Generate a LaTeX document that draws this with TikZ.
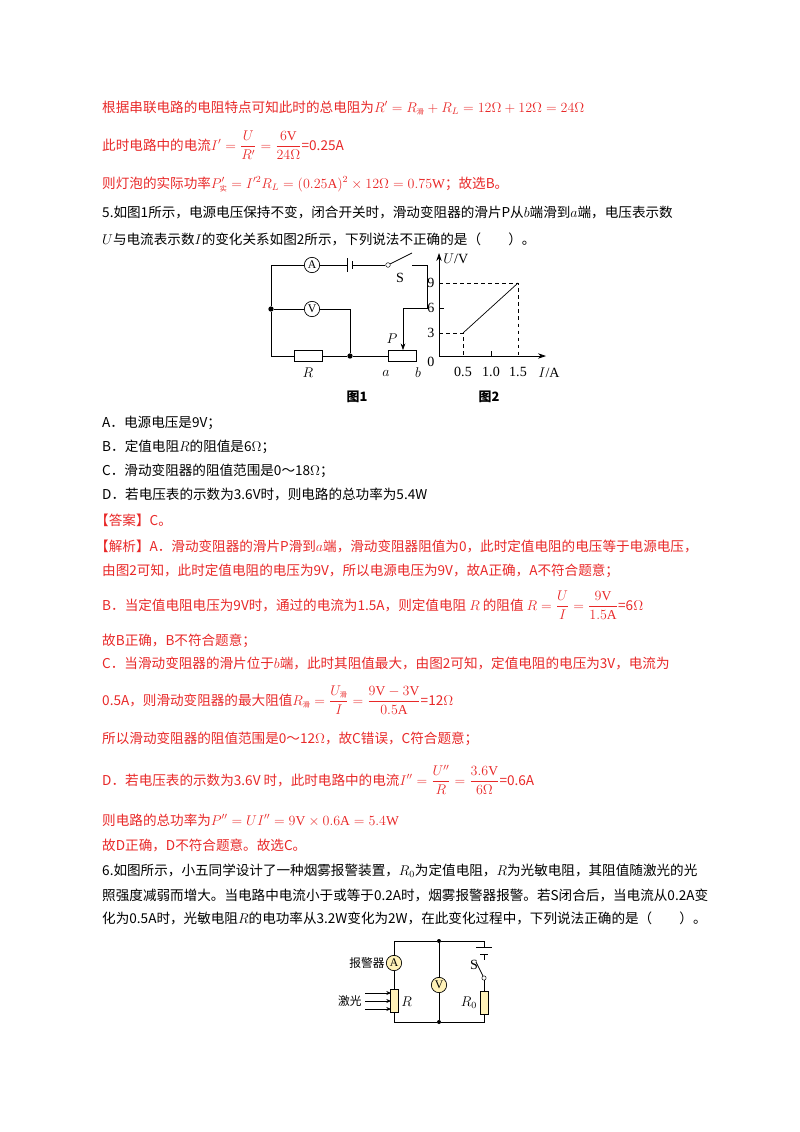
\documentclass[tikz,border=0pt]{standalone}
\usepackage{fontspec}
\setmainfont{Liberation Serif}
\newfontfamily\cjk{Noto Sans CJK SC}
\usetikzlibrary{arrows.meta}
\definecolor{ansred}{RGB}{232,40,40}
\definecolor{meter}{RGB}{255,242,185}
\newcommand{\sub}[1]{\mbox{\cjk\fontsize{6}{6}\selectfont #1}}
\newcommand{\uu}[1]{\mathrm{#1}}
\begin{document}
\begin{tikzpicture}[x=0.3mm,y=-0.3mm,
    line/.style={anchor=base west,inner sep=0,font=\cjk\fontsize{11.6}{13}\selectfont},
    redline/.style={line,text=ansred},
    wire/.style={line width=0.6pt},
    meterc/.style={circle,draw,line width=0.6pt,inner sep=0,minimum size=4.6mm,font=\fontsize{10}{10}\selectfont},
    resbox/.style={draw,line width=0.6pt,fill=white,minimum width=8.4mm,minimum height=3.3mm,inner sep=0},
    dotn/.style={circle,fill,inner sep=0,minimum size=1.6mm},
    lab/.style={font=\fontsize{12}{12}\selectfont,inner sep=1pt},
    dashln/.style={dashed,line width=0.6pt}]
\useasboundingbox (0,0) rectangle (800,1132);

% solution text
\node[redline] (l1) at (102,112) {根据串联电路的电阻特点可知此时的总电阻为$R'=R_{\sub{滑}}+R_L=12\Omega+12\Omega=24\Omega$};
\node[redline] (l2) at (102,150) {此时电路中的电流$\displaystyle I'=\frac{U}{R'}=\frac{6\uu V}{24\Omega}$=0.25A};
\node[redline] (l3) at (102,188) {则灯泡的实际功率$P'_{\sub{实}}=I'^2R_L=(0.25\uu A)^2\times12\Omega=0.75\uu W$；故选B。};
\node[line] (q1) at (102,217) {5.如图1所示，电源电压保持不变，闭合开关时，滑动变阻器的滑片P从$b$端滑到$a$端，电压表示数};
\node[line] (q2) at (102,244) {$U$与电流表示数$I$的变化关系如图2所示，下列说法不正确的是（　　）。};

% figure 1
\coordinate (tl) at (271,265); \coordinate (tr) at (412,265);
\coordinate (bl) at (271,356);
\node[meterc] (am) at (312,265) {A};
\node[meterc] (vm) at (312,309) {V};
\node[dotn] (d1) at (271,309) {};
\node[dotn] (d2) at (350,356) {};
\node[resbox] (rr) at (308,356) {};
\node[resbox] (rp) at (402,356) {};
\node[circle,draw,fill=white,inner sep=0,minimum size=1.4mm] (sw) at (388,265) {};
\coordinate (bat1) at (347,265); \coordinate (bat2) at (352,265);
\draw[wire] (d1) -- (tl) -- (am) -- (bat1);
\draw[wire] (bat1) ++(0,-7) -- ++(0,14);
\draw[wire] (bat2) ++(0,-4) -- ++(0,8);
\draw[wire] (bat2) -- (sw);
\draw[wire] (sw) -- (412,253);
\draw[wire] (tr) -- (427,265) -- (427,308) -- (403,308);
\draw[wire,-{Stealth[length=2mm,width=1.4mm]}] (403,308) -- (rp.north -| 403,0);
\draw[wire] (d1) -- (bl) -- (rr) -- (d2) -- (rp);
\draw[wire] (d1) -- (vm) -- (350,309) -- (d2);
\node[lab] (ls) at (400,278) {S};
\node[lab] (lp) at (392,339) {$P$};
\node[lab] (lr) at (308,373) {$R$};
\node[lab] (la) at (386,373) {$a$};
\node[lab] (lb) at (418,373) {$b$};
\node[line,anchor=center,font=\cjk\bfseries\fontsize{11}{11}\selectfont] (f1) at (357,397) {图1};

% figure 2
\coordinate (o) at (439,356);
\draw[wire,-{Stealth[length=2.4mm,width=1.6mm]}] (o) -- (546,356);
\draw[wire,-{Stealth[length=2.4mm,width=1.6mm]}] (o) -- (439,253);
\draw[dashln] (439,333) -- (463,333) -- (463,356);
\draw[dashln] (439,283) -- (518,283) -- (518,356);
\draw[wire] (463,333) -- (518,283);
\foreach \x in {491} \draw[wire] (\x,356) -- (\x,351);
\foreach \y in {308} \draw[wire] (439,\y) -- (444,\y);
\node[lab] (n0) at (431,362) {0};
\node[lab] (n3) at (431,333) {3};
\node[lab] (n6) at (431,308) {6};
\node[lab] (n9) at (431,283) {9};
\node[lab] (x1) at (463,372) {0.5};
\node[lab] (x2) at (491,372) {1.0};
\node[lab] (x3) at (518,372) {1.5};
\node[lab,anchor=west] (ua) at (442,259) {$U$/V};
\node[lab,anchor=west] (ia) at (537,373) {$I$/A};
\node[line,anchor=center,font=\cjk\bfseries\fontsize{11}{11}\selectfont] (f2) at (489,397) {图2};

% options
\node[line] (oa) at (102,427) {A．电源电压是9V；};
\node[line] (ob) at (102,451) {B．定值电阻$R$的阻值是6$\Omega$；};
\node[line] (oc) at (102,475) {C．滑动变阻器的阻值范围是0～18$\Omega$；};
\node[line] (od) at (102,499) {D．若电压表的示数为3.6V时，则电路的总功率为5.4W};
\node[redline] (ans) at (95,525) {【答案】C。};
\node[redline] (s1) at (95,551) {【解析】A．滑动变阻器的滑片P滑到$a$端，滑动变阻器阻值为0，此时定值电阻的电压等于电源电压，};
\node[redline] (s2) at (102,575) {由图2可知，此时定值电阻的电压为9V，所以电源电压为9V，故A正确，A不符合题意；};
\node[redline] (s3) at (102,610) {B．当定值电阻电压为9V时，通过的电流为1.5A，则定值电阻 $R$ 的阻值 $\displaystyle R=\frac{U}{I}=\frac{9\uu V}{1.5\uu A}$=6$\Omega$};
\node[redline] (s4) at (102,645) {故B正确，B不符合题意；};
\node[redline] (s5) at (102,668) {C．当滑动变阻器的滑片位于$b$端，此时其阻值最大，由图2可知，定值电阻的电压为3V，电流为};
\node[redline] (s6) at (102,705) {0.5A，则滑动变阻器的最大阻值$\displaystyle R_{\sub{滑}}=\frac{U_{\sub{滑}}}{I}=\frac{9\uu V-3\uu V}{0.5\uu A}$=12$\Omega$};
\node[redline] (s7) at (102,743) {所以滑动变阻器的阻值范围是0～12$\Omega$，故C错误，C符合题意；};
\node[redline] (s8) at (102,785) {D．若电压表的示数为3.6V 时，此时电路中的电流$\displaystyle I''=\frac{U''}{R}=\frac{3.6\uu V}{6\Omega}$=0.6A};
\node[redline] (s9) at (102,825) {则电路的总功率为$P''=UI''=9\uu V\times0.6\uu A=5.4\uu W$};
\node[redline] (s10) at (102,850) {故D正确，D不符合题意。故选C。};
\node[line] (p1) at (102,875) {6.如图所示，小五同学设计了一种烟雾报警装置，$R_0$为定值电阻，$R$为光敏电阻，其阻值随激光的光};
\node[line] (p2) at (102,900) {照强度减弱而增大。当电路中电流小于或等于0.2A时，烟雾报警器报警。若S闭合后，当电流从0.2A变};
\node[line] (p3) at (102,923) {化为0.5A时，光敏电阻$R$的电功率从3.2W变化为2W，在此变化过程中，下列说法正确的是（　　）。};

% figure 3
\node[meterc,fill=meter] (am2) at (394,963) {A};
\node[meterc,fill=meter] (vm2) at (439,985) {V};
\node[draw,line width=0.6pt,fill=meter,minimum width=2.4mm,minimum height=7mm,inner sep=0] (rl) at (394,1001) {};
\node[draw,line width=0.6pt,fill=meter,minimum width=2.4mm,minimum height=7mm,inner sep=0] (r0) at (484,1003) {};
\node[dotn,minimum size=1.2mm] (t2) at (439,941) {};
\node[dotn,minimum size=1.2mm] (b2) at (439,1022) {};
\node[circle,draw,fill=white,inner sep=0,minimum size=1.3mm] (sw2) at (484,978) {};
\draw[wire] (am2) -- (394,941) -- (t2) -- (484,941) -- (484,947);
\draw[wire] (476,947) -- (492,947);
\draw[wire] (480,954) -- (488,954);
\draw[wire] (484,954) -- (484,960);
\draw[wire] (sw2) -- (476,962);
\draw[wire] (sw2) -- (r0) -- (484,1022) -- (b2) -- (394,1022) -- (rl) -- (am2);
\draw[wire] (t2) -- (vm2) -- (b2);
\foreach \y in {993,1001,1009} \draw[wire,-{Stealth[length=1.4mm,width=1.2mm]}] (365,\y) -- (391,\y);
\node[lab,font=\cjk\fontsize{10}{10}\selectfont,anchor=east] (bj) at (386,963) {报警器};
\node[lab,font=\cjk\fontsize{10}{10}\selectfont,anchor=east] (jg) at (363,1001) {激光};
\node[lab,anchor=west] (lr2) at (400,1002) {$R$};
\node[lab] (lr0) at (469,1003) {$R_0$};
\node[lab] (ls2) at (474,965) {S};
\end{tikzpicture}
\end{document}
